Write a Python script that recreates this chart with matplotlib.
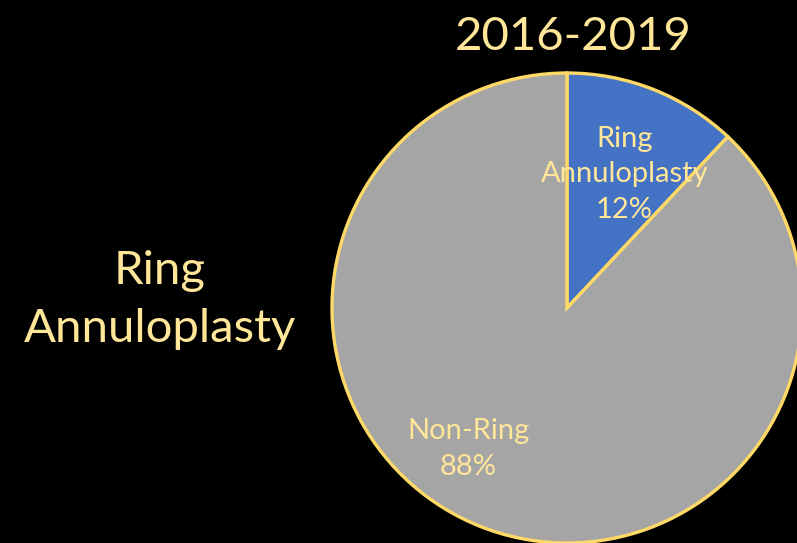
import matplotlib.pyplot as plt

# data
categories = ['Ring\nAnnuloplasty', 'Non-Ring']
shares = [12, 88]
colours = ['#4472C4', '#A5A5A5']

title = '2016-2019'
side_label = 'Ring\nAnnuloplasty'

text_colour = '#FFE699'
edge_colour = '#FFD966'

plt.rcParams['font.family'] = ['Lato', 'DejaVu Sans']

fig = plt.figure(figsize=(7.97, 5.43), dpi=100, facecolor='black')

# pie axes placed in pixels: centre (567, 308), radius 235
cx, cy, r = 567, 308, 235
W, H = 797, 543
ax = fig.add_axes([(cx - r) / W, (H - cy - r) / H, 2 * r / W, 2 * r / H])
ax.set_facecolor('black')

wedges, _ = ax.pie(shares, colors=colours, startangle=90, counterclock=False,
                   radius=1.0, wedgeprops=dict(edgecolor=edge_colour, linewidth=2.4))
ax.set_xlim(-1, 1)
ax.set_ylim(-1, 1)
ax.set_aspect('equal')
ax.axis('off')
for w in wedges:
    w.set_clip_on(False)

# slice labels (positions in pie coordinates)
label_pos = [(0.245, 0.57), (-0.42, -0.60)]
for cat, val, (x, y) in zip(categories, shares, label_pos):
    ax.text(x, y, '{}\n{}%'.format(cat, val), ha='center', va='center',
            color=text_colour, fontsize=21, linespacing=1.45)

fig.text(573 / W, 1 - 37 / H, title, ha='center', va='center',
         color=text_colour, fontsize=34)
fig.text(160 / W, 1 - 300 / H, side_label, ha='center', va='center',
         color=text_colour, fontsize=34, linespacing=1.5)

fig.savefig('out.png', dpi=100, facecolor='black')
